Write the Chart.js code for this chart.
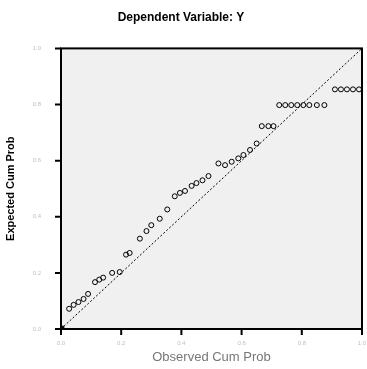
<!DOCTYPE html>
<html>
<head>
<meta charset="utf-8">
<script src="https://cdn.jsdelivr.net/npm/chart.js@4/dist/chart.umd.min.js"></script>
<style>
  html, body { margin: 0; padding: 0; background: #fff; }
  canvas { display: block; }
</style>
</head>
<body>
<canvas id="ppPlot" width="367" height="369"></canvas>
<script>
// observed vs expected cumulative probabilities
const observed = [0.027, 0.042, 0.058, 0.075, 0.09, 0.113, 0.127, 0.14, 0.17, 0.195,
  0.216, 0.228, 0.262, 0.284, 0.30, 0.328, 0.353, 0.378, 0.395, 0.412, 0.434, 0.45,
  0.47, 0.49, 0.523, 0.545, 0.567, 0.589, 0.606, 0.628, 0.65, 0.667, 0.689, 0.706,
  0.725, 0.745, 0.765, 0.785, 0.805, 0.825, 0.85, 0.875, 0.91, 0.93, 0.95, 0.97, 0.99];
const expected = [0.072, 0.086, 0.096, 0.107, 0.125, 0.167, 0.176, 0.183, 0.2, 0.203,
  0.265, 0.271, 0.322, 0.349, 0.37, 0.393, 0.426, 0.473, 0.485, 0.492, 0.51, 0.52,
  0.53, 0.545, 0.59, 0.584, 0.596, 0.608, 0.62, 0.638, 0.661, 0.723, 0.723, 0.723,
  0.798, 0.798, 0.798, 0.798, 0.798, 0.798, 0.798, 0.798, 0.854, 0.854, 0.854, 0.854, 0.854];
const refLine = [0, 1];
const tickValues = [0, 0.2, 0.4, 0.6, 0.8, 1.0];

let points = observed.map(function (x, i) { return { x: x, y: expected[i] }; });
let diag = refLine.map(function (v) { return { x: v, y: v }; });

// grey plot background, black frame and outward tick marks
const frame = {
  id: 'frame',
  beforeDatasetsDraw(chart) {
    const a = chart.chartArea, ctx = chart.ctx;
    ctx.save();
    ctx.fillStyle = '#f0f0f0';
    ctx.fillRect(a.left, a.top, a.right - a.left, a.bottom - a.top);
    ctx.restore();
  },
  afterDatasetsDraw(chart) {
    const a = chart.chartArea, ctx = chart.ctx;
    const xs = chart.scales.x, ys = chart.scales.y;
    ctx.save();
    ctx.strokeStyle = '#000';
    ctx.lineWidth = 2;
    ctx.strokeRect(a.left, a.top, a.right - a.left, a.bottom - a.top);
    ctx.beginPath();
    tickValues.forEach(function (v) {
      let px = xs.getPixelForValue(v);
      ctx.moveTo(px, a.bottom);
      ctx.lineTo(px, a.bottom + 6);
      let py = ys.getPixelForValue(v);
      ctx.moveTo(a.left, py);
      ctx.lineTo(a.left - 6, py);
    });
    ctx.stroke();
    ctx.restore();
  }
};

function tickOpts(pad) {
  return {
    color: '#c0c0c0',
    font: { family: 'Liberation Sans', size: 6 },
    padding: pad,
    callback: function (v) { return v.toFixed(1); }
  };
}
let gridOpts = { display: false };

new Chart(document.getElementById('ppPlot'), {
  type: 'scatter',
  data: {
    datasets: [{
      data: points,
      pointStyle: 'circle',
      pointRadius: 2.5,
      borderColor: '#000',
      borderWidth: 1,
      backgroundColor: 'rgba(0,0,0,0)'
    }, {
      data: diag,
      showLine: true,
      borderColor: '#000',
      borderWidth: 1,
      borderDash: [2, 2],
      pointRadius: [4, 0],
      pointStyle: 'rect',
      backgroundColor: '#000'
    }]
  },
  options: {
    responsive: false,
    animation: false,
    layout: { padding: { right: 5, bottom: 0, left: 0, top: 0 } },
    plugins: {
      legend: { display: false },
      tooltip: { enabled: false },
      title: {
        display: true,
        text: 'Dependent Variable: Y',
        color: '#000',
        font: { family: 'Liberation Sans', size: 12, weight: 'bold' },
        padding: { top: 10, bottom: 24 }
      }
    },
    scales: {
      x: {
        type: 'linear', min: 0, max: 1,
        afterBuildTicks: function (s) { s.ticks = tickValues.map(function (v) { return { value: v }; }); },
        afterFit: function (s) { s.height = 40; s.paddingRight = 0; s.paddingLeft = 0; },
        ticks: tickOpts(3),
        grid: gridOpts,
        border: { display: false },
        title: {
          display: true, text: 'Observed Cum Prob', color: '#777',
          font: { family: 'Liberation Sans', size: 13 },
          padding: { top: 8 }
        }
      },
      y: {
        type: 'linear', min: 0, max: 1,
        afterBuildTicks: function (s) { s.ticks = tickValues.map(function (v) { return { value: v }; }); },
        afterFit: function (s) { s.width = 61; s.paddingTop = 0; s.paddingBottom = 0; },
        ticks: tickOpts(12),
        grid: gridOpts,
        border: { display: false },
        title: {
          display: true, text: 'Expected Cum Prob', color: '#000',
          font: { family: 'Liberation Sans', size: 11, weight: 'bold' },
          padding: { bottom: 2 }
        }
      }
    }
  },
  plugins: [frame]
});
</script>
</body>
</html>
